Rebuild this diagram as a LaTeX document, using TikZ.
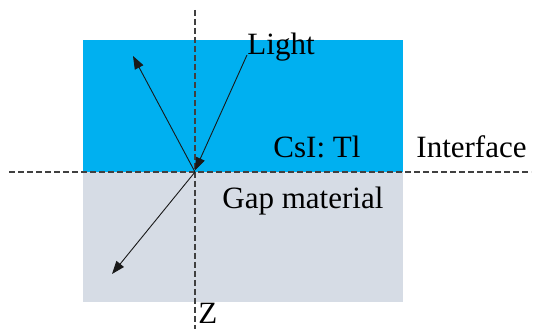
\documentclass[tikz,border=0pt]{standalone}
\usepackage{fontspec}
\setmainfont{Liberation Serif}
\usetikzlibrary{
  calc,
  positioning,
  arrows.meta}
\definecolor{csiblue}{HTML}{00B0F0}
\definecolor{gapgray}{HTML}{D6DCE5}

\begin{document}
\begin{tikzpicture}[
  x=1pt, y=1pt,
  >={Triangle[length=13pt,width=9.5pt]},
  line width=0.9pt,
  axis/.style={dash pattern=on 6pt off 3pt, color=black!75, line width=1.1pt},
  ray/.style={->, color=black!90},
  label/.style={inner sep=0pt, anchor=base west, font=\fontsize{31}{37}\selectfont}
]%
  \useasboundingbox (0,0) rectangle (533,329);

  % layers
  \fill[csiblue] (83,157) rectangle (403,289);
  \fill[gapgray] (83,27)  rectangle (403,157);

  % axes
  \coordinate (O)    at (195,157);
  \coordinate (zTop) at (195,319);
  \coordinate (zBot) at (195,0);
  \coordinate (iL)   at (9,157);
  \coordinate (iR)   at (531,157);
  \draw[axis] (zTop) -- (zBot);
  \draw[axis] (iL) -- (iR);

  % texts
  \node[label] (light)     at (247,274) {Light};
  \node[label] (csi)       at (273,171) {CsI: Tl};
  \node[label] (interface) at (416,171) {Interface};
  \node[label] (gap)       at (222,120) {Gap material};
  \node[label] (zlab)      at (198,5)   {Z};

  % rays
  \coordinate (inc)  at (247,274);
  \coordinate (refl) at (133,273);
  \coordinate (refr) at (112,55);
  \draw[ray] (inc) -- ($(O)+(0,1.5)$);
  \draw[ray] (O) -- (refl);
  \draw[ray] (O) -- (refr);

\end{tikzpicture}
\end{document}
